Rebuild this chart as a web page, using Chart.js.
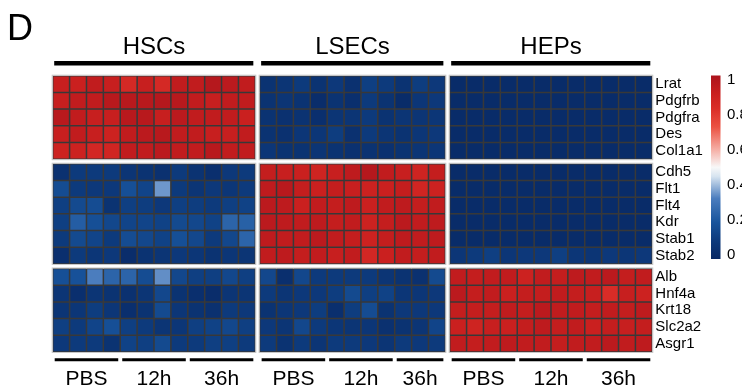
<!DOCTYPE html>
<html>
<head>
<meta charset="utf-8">
<script src="https://cdn.jsdelivr.net/npm/chart.js@4"></script>
<style>
  html, body { margin: 0; padding: 0; background: #ffffff; }
  #wrap { width: 742px; height: 390px; position: relative; }
</style>
</head>
<body>
<div id="wrap"><canvas id="heatmap"></canvas></div>
<script>
// ---- data -------------------------------------------------------------
const genes = ['Lrat', 'Pdgfrb', 'Pdgfra', 'Des', 'Col1a1',
               'Cdh5', 'Flt1', 'Flt4', 'Kdr', 'Stab1', 'Stab2',
               'Alb', 'Hnf4a', 'Krt18', 'Slc2a2', 'Asgr1'];
const geneGroupSizes = [5, 6, 5];
const cellTypes = ['HSCs', 'LSECs', 'HEPs'];
const timepoints = ['PBS', '12h', '36h'];
// samples per timepoint within each cell type
const samplesPerTimepoint = [[4, 4, 4], [4, 4, 3], [4, 4, 4]];
const colorbarTicks = [0, 0.2, 0.4, 0.6, 0.8, 1];

// scaled expression, one row per gene, one column per sample
const hscValues = [
  [0.91, 0.90, 0.93, 0.91, 0.85, 0.91, 0.85, 0.93, 0.93, 0.97, 0.95, 0.93],
  [0.91, 0.93, 0.93, 0.96, 0.96, 0.96, 0.97, 0.96, 0.93, 0.91, 0.93, 0.93],
  [0.96, 0.93, 0.91, 0.91, 0.96, 0.96, 0.91, 0.95, 0.93, 0.93, 0.93, 0.90],
  [0.91, 0.93, 0.91, 0.89, 0.93, 0.95, 0.96, 0.93, 0.93, 0.91, 0.91, 0.93],
  [0.89, 0.89, 0.86, 0.87, 0.93, 0.93, 0.95, 0.93, 0.93, 0.96, 0.93, 0.93],
  [0.05, 0.10, 0.10, 0.10, 0.07, 0.06, 0.05, 0.10, 0.06, 0.04, 0.09, 0.10],
  [0.17, 0.10, 0.09, 0.09, 0.18, 0.14, 0.36, 0.10, 0.07, 0.09, 0.08, 0.10],
  [0.12, 0.16, 0.17, 0.06, 0.12, 0.11, 0.09, 0.12, 0.11, 0.10, 0.12, 0.13],
  [0.12, 0.23, 0.18, 0.15, 0.14, 0.14, 0.13, 0.16, 0.15, 0.13, 0.25, 0.24],
  [0.10, 0.16, 0.14, 0.10, 0.17, 0.15, 0.13, 0.18, 0.15, 0.10, 0.15, 0.25],
  [0.04, 0.10, 0.08, 0.09, 0.03, 0.06, 0.07, 0.09, 0.08, 0.06, 0.08, 0.07],
  [0.18, 0.19, 0.33, 0.25, 0.25, 0.17, 0.35, 0.15, 0.12, 0.12, 0.15, 0.12],
  [0.07, 0.04, 0.07, 0.06, 0.05, 0.07, 0.15, 0.06, 0.04, 0.03, 0.07, 0.07],
  [0.07, 0.08, 0.11, 0.08, 0.04, 0.06, 0.16, 0.08, 0.06, 0.05, 0.10, 0.09],
  [0.12, 0.10, 0.14, 0.18, 0.12, 0.10, 0.07, 0.08, 0.12, 0.13, 0.15, 0.12],
  [0.09, 0.10, 0.10, 0.06, 0.13, 0.12, 0.16, 0.10, 0.10, 0.12, 0.12, 0.10]
];
const lsecValues = [
  [0.06, 0.07, 0.10, 0.06, 0.09, 0.05, 0.12, 0.10, 0.06, 0.11, 0.09],
  [0.06, 0.07, 0.06, 0.03, 0.06, 0.04, 0.10, 0.06, 0.02, 0.08, 0.09],
  [0.06, 0.05, 0.06, 0.04, 0.07, 0.07, 0.10, 0.06, 0.07, 0.07, 0.08],
  [0.06, 0.05, 0.08, 0.08, 0.11, 0.05, 0.10, 0.07, 0.06, 0.08, 0.09],
  [0.08, 0.06, 0.06, 0.07, 0.06, 0.05, 0.06, 0.05, 0.06, 0.07, 0.08],
  [0.92, 0.91, 0.90, 0.88, 0.91, 0.94, 0.97, 0.93, 0.91, 0.88, 0.92],
  [0.94, 0.96, 0.92, 0.90, 0.92, 0.91, 0.89, 0.90, 0.92, 0.87, 0.89],
  [0.95, 0.94, 0.90, 0.93, 0.92, 0.94, 0.90, 0.93, 0.94, 0.92, 0.93],
  [0.95, 0.94, 0.93, 0.94, 0.92, 0.93, 0.89, 0.92, 0.95, 0.93, 0.94],
  [0.94, 0.93, 0.93, 0.95, 0.93, 0.92, 0.89, 0.92, 0.94, 0.93, 0.94],
  [0.93, 0.94, 0.92, 0.93, 0.91, 0.93, 0.86, 0.90, 0.93, 0.92, 0.93],
  [0.15, 0.04, 0.15, 0.10, 0.10, 0.10, 0.10, 0.07, 0.06, 0.05, 0.16],
  [0.10, 0.07, 0.09, 0.09, 0.11, 0.16, 0.12, 0.13, 0.08, 0.08, 0.09],
  [0.06, 0.08, 0.09, 0.11, 0.04, 0.11, 0.17, 0.06, 0.09, 0.09, 0.09],
  [0.09, 0.07, 0.15, 0.10, 0.08, 0.07, 0.08, 0.05, 0.06, 0.07, 0.14],
  [0.10, 0.06, 0.10, 0.07, 0.10, 0.10, 0.09, 0.07, 0.10, 0.09, 0.10]
];
const hepValues = [
  [0.02, 0.02, 0.02, 0.02, 0.02, 0.02, 0.02, 0.02, 0.02, 0.02, 0.02, 0.02],
  [0.02, 0.02, 0.02, 0.02, 0.02, 0.02, 0.02, 0.02, 0.02, 0.02, 0.02, 0.02],
  [0.02, 0.02, 0.02, 0.02, 0.02, 0.02, 0.02, 0.02, 0.02, 0.02, 0.02, 0.02],
  [0.02, 0.02, 0.02, 0.02, 0.02, 0.02, 0.02, 0.02, 0.02, 0.02, 0.02, 0.02],
  [0.02, 0.02, 0.02, 0.02, 0.02, 0.02, 0.02, 0.02, 0.02, 0.02, 0.02, 0.02],
  [0.02, 0.02, 0.02, 0.02, 0.02, 0.02, 0.02, 0.02, 0.02, 0.02, 0.02, 0.02],
  [0.02, 0.02, 0.02, 0.02, 0.02, 0.02, 0.02, 0.02, 0.02, 0.02, 0.02, 0.02],
  [0.02, 0.02, 0.02, 0.02, 0.02, 0.02, 0.02, 0.02, 0.02, 0.02, 0.02, 0.02],
  [0.02, 0.02, 0.02, 0.02, 0.02, 0.02, 0.02, 0.02, 0.02, 0.02, 0.02, 0.02],
  [0.02, 0.02, 0.02, 0.02, 0.02, 0.02, 0.02, 0.02, 0.02, 0.02, 0.02, 0.02],
  [0.08, 0.10, 0.12, 0.08, 0.09, 0.09, 0.12, 0.08, 0.07, 0.09, 0.08, 0.09],
  [0.93, 0.92, 0.93, 0.93, 0.89, 0.93, 0.92, 0.94, 0.93, 0.95, 0.92, 0.93],
  [0.95, 0.92, 0.93, 0.90, 0.92, 0.92, 0.93, 0.92, 0.91, 0.83, 0.91, 0.89],
  [0.92, 0.92, 0.92, 0.93, 0.92, 0.95, 0.93, 0.93, 0.92, 0.93, 0.92, 0.94],
  [0.90, 0.88, 0.91, 0.90, 0.92, 0.94, 0.92, 0.93, 0.90, 0.92, 0.91, 0.92],
  [0.93, 0.92, 0.93, 0.94, 0.93, 0.93, 0.92, 0.93, 0.93, 0.95, 0.93, 0.94]
];
const valuesByCellType = [hscValues, lsecValues, hepValues];

// ---- layout in data units ----------------------------------------------
const COL_GAP = 0.255;   // white gap between cell-type blocks
const ROW_GAP = 0.27;    // white gap between gene groups
const FONT = "'Liberation Sans', Arial, Helvetica, sans-serif";

const blockCounts = samplesPerTimepoint.map(s => s.reduce((a, b) => a + b, 0));
const blockStart = [];
{
  let acc = 0;
  blockCounts.forEach((n, b) => { blockStart.push(acc + b * COL_GAP); acc += n; });
}
const xMax = blockCounts.reduce((a, b) => a + b, 0) + (cellTypes.length - 1) * COL_GAP;

const geneGroupOf = [];
geneGroupSizes.forEach((n, g) => { for (let k = 0; k < n; k++) geneGroupOf.push(g); });
const rowTop = i => i + geneGroupOf[i] * ROW_GAP;
const yMax = genes.length + (geneGroupSizes.length - 1) * ROW_GAP;

// ---- colour scale (navy - white - red) -------------------------------
const colorStops = [
  [0.00, [8, 40, 100]],
  [0.10, [13, 58, 124]],
  [0.20, [24, 84, 156]],
  [0.33, [75, 125, 190]],
  [0.45, [215, 228, 240]],
  [0.50, [248, 248, 248]],
  [0.60, [245, 172, 162]],
  [0.72, [235, 82, 66]],
  [0.82, [218, 46, 40]],
  [0.90, [202, 32, 31]],
  [1.00, [172, 20, 28]]
];
function heatColor(v) {
  v = Math.max(0, Math.min(1, v));
  for (let k = 1; k < colorStops.length; k++) {
    const [p1, c1] = colorStops[k];
    const [p0, c0] = colorStops[k - 1];
    if (v <= p1) {
      const t = (v - p0) / (p1 - p0);
      const c = c0.map((ch, n) => Math.round(ch + (c1[n] - ch) * t));
      return `rgb(${c[0]},${c[1]},${c[2]})`;
    }
  }
  const c = colorStops[colorStops.length - 1][1];
  return `rgb(${c[0]},${c[1]},${c[2]})`;
}

// ---- datasets: one floating-bar series per gene -----------------------
const datasets = genes.map((gene, i) => {
  const data = [];
  const colors = [];
  valuesByCellType.forEach((vals, b) => {
    vals[i].forEach((v, j) => {
      data.push({ x: blockStart[b] + j + 0.5, y: [rowTop(i), rowTop(i) + 1], v });
      colors.push(heatColor(v));
    });
  });
  return { label: gene, data, backgroundColor: colors };
});

// ---- annotations: block frames, group bars, labels, colour key -------
const annotations = {
  id: 'annotations',
  beforeDatasetsDraw(chart) {
    const { ctx, scales: { x, y } } = chart;
    ctx.save();
    ctx.lineWidth = 1;
    let r0 = 0;
    geneGroupSizes.forEach(n => {
      const top = y.getPixelForValue(rowTop(r0));
      const bottom = y.getPixelForValue(rowTop(r0 + n - 1) + 1);
      blockCounts.forEach((cnt, b) => {
        const left = x.getPixelForValue(blockStart[b]);
        const right = x.getPixelForValue(blockStart[b] + cnt);
        // dark grid backing so cell seams stay dark
        ctx.fillStyle = '#3a3a3a';
        ctx.fillRect(left, top, right - left, bottom - top);
        ctx.strokeStyle = '#c8c8c8';
        ctx.strokeRect(left - 0.5, top - 0.5, right - left + 1, bottom - top + 1);
      });
      r0 += n;
    });
    ctx.restore();
  },
  afterDraw(chart) {
    const { ctx, scales: { x } } = chart;
    ctx.save();
    ctx.fillStyle = '#000';
    ctx.strokeStyle = '#000';

    // panel letter
    ctx.font = `36px ${FONT}`;
    ctx.textAlign = 'left';
    ctx.textBaseline = 'alphabetic';
    ctx.fillText('D', 7, 39.5);

    // cell-type headers
    const topLineY = 63.3;
    cellTypes.forEach((name, b) => {
      const left = x.getPixelForValue(blockStart[b]);
      const right = x.getPixelForValue(blockStart[b] + blockCounts[b]);
      ctx.lineWidth = 4.5;
      ctx.beginPath();
      ctx.moveTo(left + 1.5, topLineY);
      ctx.lineTo(right - 2, topLineY);
      ctx.stroke();
      ctx.font = `24px ${FONT}`;
      ctx.textAlign = 'center';
      ctx.fillText(name, (left + right) / 2, 53.5);
    });

    // timepoint labels
    const bottomLineY = 359.7;
    cellTypes.forEach((name, b) => {
      let offset = blockStart[b];
      samplesPerTimepoint[b].forEach((n, t) => {
        const left = x.getPixelForValue(offset);
        const right = x.getPixelForValue(offset + n);
        ctx.lineWidth = 3;
        ctx.beginPath();
        ctx.moveTo(left + 2, bottomLineY);
        ctx.lineTo(right - 2, bottomLineY);
        ctx.stroke();
        ctx.font = `21px ${FONT}`;
        ctx.textAlign = 'center';
        ctx.fillText(timepoints[t], (left + right) / 2, 385);
        offset += n;
      });
    });

    // colour key
    const keyLeft = 711, keyWidth = 9.5, keyTop = 75.5, keyBottom = 259;
    const grad = ctx.createLinearGradient(0, keyBottom, 0, keyTop);
    colorStops.forEach(([p, c]) => grad.addColorStop(p, `rgb(${c[0]},${c[1]},${c[2]})`));
    ctx.fillStyle = grad;
    ctx.fillRect(keyLeft, keyTop, keyWidth, keyBottom - keyTop);

    const labelTop = 79.5, labelBottom = 254.5;
    ctx.fillStyle = '#000';
    ctx.font = `15px ${FONT}`;
    ctx.textAlign = 'left';
    ctx.textBaseline = 'middle';
    colorbarTicks.forEach(v => {
      const py = labelBottom - (labelBottom - labelTop) * v;
      ctx.fillText(String(v), 727, py);
    });
    ctx.restore();
  }
};

new Chart(document.getElementById('heatmap'), {
  type: 'bar',
  data: { datasets },
  plugins: [annotations],
  options: {
    responsive: true,
    maintainAspectRatio: false,
    animation: false,
    layout: { padding: { left: 52.7, top: 75.7, right: 31.7, bottom: 38 } },
    plugins: { legend: { display: false }, tooltip: { enabled: false } },
    datasets: {
      bar: {
        grouped: false,
        categoryPercentage: 1,
        barPercentage: 1,
        inflateAmount: 0,
        borderWidth: 0.75,
        borderColor: '#3a3a3a',
        borderSkipped: false
      }
    },
    scales: {
      x: { type: 'linear', min: 0, max: xMax, offset: false, display: false },
      y: { type: 'linear', min: 0, max: yMax, reverse: true, offset: false, display: false },
      genes: {
        type: 'linear',
        position: 'right',
        min: 0,
        max: yMax,
        reverse: true,
        afterBuildTicks: scale => {
          scale.ticks = genes.map((g, i) => ({ value: rowTop(i) + 0.5 }));
        },
        afterFit: scale => { scale.width = 58; },
        grid: { display: false, drawTicks: false },
        border: { display: false },
        ticks: {
          autoSkip: false,
          padding: 3,
          color: '#000',
          font: { family: FONT, size: 15 },
          callback: (value, index) => genes[index]
        }
      }
    }
  }
});
</script>
</body>
</html>
